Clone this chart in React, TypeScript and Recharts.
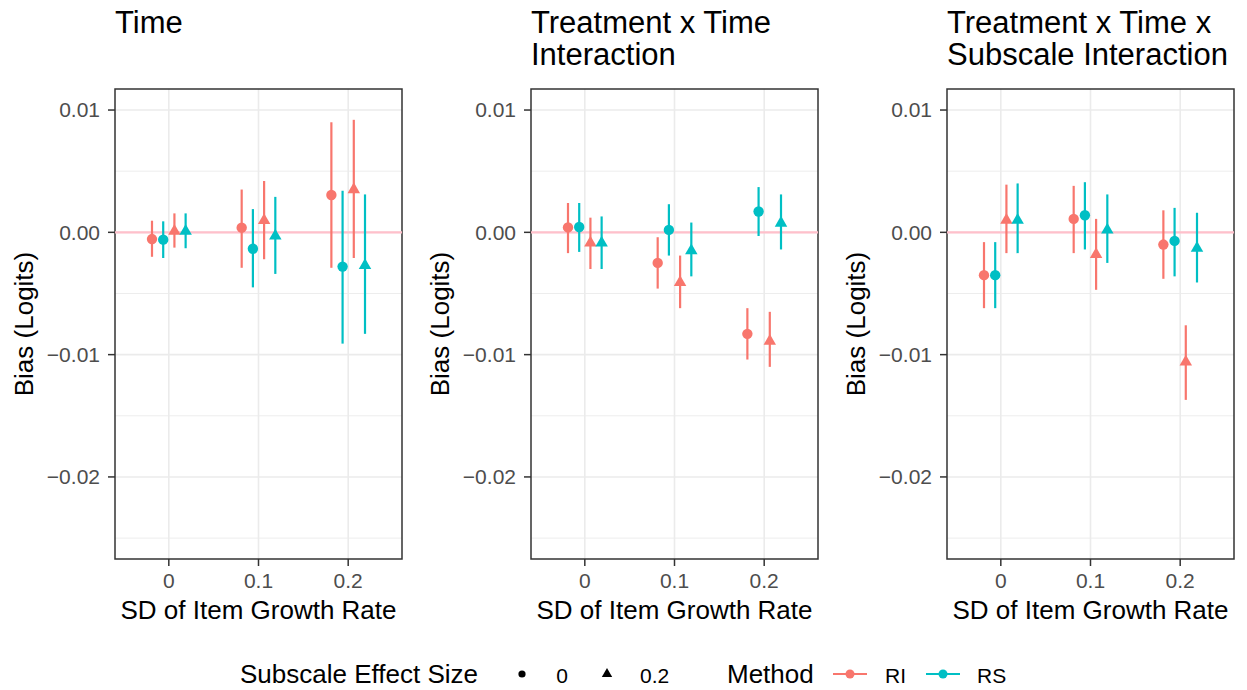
import {
  CartesianGrid,
  ErrorBar,
  ReferenceArea,
  ReferenceLine,
  Scatter,
  ScatterChart,
  XAxis,
  YAxis,
} from 'recharts'

const RI_COLOR = '#F8766D'
const RS_COLOR = '#00BFC4'
const GRID = '#EBEBEB'
const BORDER = '#333333'
const TICK = '#4D4D4D'
const FONT = '"Liberation Sans", Arial, Helvetica, sans-serif'

const sdLevels = ['0', '0.1', '0.2']
const yTicks = [-0.02, -0.01, 0, 0.01]
const yMinor = [-0.025, -0.015, -0.005, 0.005]
const Y_MIN = -0.02671
const Y_MAX = 0.01172

// [estimate, lower, upper] per SD level (0, 0.1, 0.2)
const timeRI0 = [[-0.00055, -0.002, 0.00095], [0.00038, -0.0029, 0.0035], [0.00305, -0.0029, 0.009]]
const timeRS0 = [[-0.0006, -0.0021, 0.0009], [-0.00134, -0.0045, 0.0019], [-0.0028, -0.0091, 0.0034]]
const timeRI2 = [[0.0001, -0.00125, 0.00155], [0.00098, -0.0022, 0.0042], [0.0035, -0.0021, 0.0092]]
const timeRS2 = [[0.0001, -0.0013, 0.00155], [-0.0003, -0.0034, 0.0029], [-0.0027, -0.0083, 0.0031]]

const txtRI0 = [[0.0004, -0.0017, 0.0024], [-0.0025, -0.0046, -0.0004], [-0.0083, -0.0104, -0.0062]]
const txtRS0 = [[0.00044, -0.0016, 0.0024], [0.0002, -0.0019, 0.0023], [0.0017, -0.0003, 0.0037]]
const txtRI2 = [[-0.00087, -0.003, 0.0012], [-0.0041, -0.0062, -0.0019], [-0.0089, -0.011, -0.0065]]
const txtRS2 = [[-0.00087, -0.003, 0.0013], [-0.0015, -0.0036, 0.0008], [0.00076, -0.0014, 0.0031]]

const txtxsRI0 = [[-0.0035, -0.0062, -0.0008], [0.0011, -0.0017, 0.0038], [-0.001, -0.0038, 0.0018]]
const txtxsRS0 = [[-0.0035, -0.0062, -0.0008], [0.0014, -0.0014, 0.0041], [-0.0007, -0.0036, 0.002]]
const txtxsRI2 = [[0.001, -0.0017, 0.0039], [-0.0018, -0.0047, 0.0011], [-0.0106, -0.0137, -0.0076]]
const txtxsRS2 = [[0.001, -0.0017, 0.004], [0.0002, -0.0025, 0.0031], [-0.0013, -0.0041, 0.0016]]

type Shape = 'circle' | 'triangle'

// dodge order inside each SD level: RI/0, RS/0, RI/0.2, RS/0.2
const SERIES: { name: string; color: string; shape: Shape; offset: number }[] = [
  { name: 'RI-0', color: RI_COLOR, shape: 'circle', offset: -0.1875 },
  { name: 'RS-0', color: RS_COLOR, shape: 'circle', offset: -0.0625 },
  { name: 'RI-0.2', color: RI_COLOR, shape: 'triangle', offset: 0.0625 },
  { name: 'RS-0.2', color: RS_COLOR, shape: 'triangle', offset: 0.1875 },
]

const PANELS = [
  { title: ['Time'], left: 0, series: [timeRI0, timeRS0, timeRI2, timeRS2] },
  { title: ['Treatment x Time', 'Interaction'], left: 416, series: [txtRI0, txtRS0, txtRI2, txtRS2] },
  {
    title: ['Treatment x Time x', 'Subscale Interaction'],
    left: 832,
    series: [txtxsRI0, txtxsRS0, txtxsRI2, txtxsRS2],
  },
]

const AXIS_W = 115
const CHART_W = 405
const CHART_H = 630
const tickStyle = { fill: TICK, fontSize: 21, style: { fontSize: 21 } }

function fmtY(v: number): string {
  return v.toFixed(2).replace('-', '\u2212')
}

function makeShape(shape: Shape, color: string) {
  return (props: any) => {
    const { cx, cy } = props
    if (cx == null || cy == null) return <g />
    if (shape === 'circle') return <circle cx={cx} cy={cy} r={5.2} fill={color} />
    const r = 7.2
    const pts = `${cx},${cy - r} ${cx + r * 0.866},${cy + r / 2} ${cx - r * 0.866},${cy + r / 2}`
    return <polygon points={pts} fill={color} />
  }
}

function YLabel(props: any) {
  const vb = props.viewBox ?? { x: 0, y: 89, width: AXIS_W, height: 470 }
  const x = vb.x + 33
  const y = vb.y + vb.height / 2
  return (
    <text x={x} y={y} transform={`rotate(-90 ${x} ${y})`} textAnchor="middle" fontSize={26} fill="#000">
      Bias (Logits)
    </text>
  )
}

function Panel({ series, left }: { series: number[][][]; left: number }) {
  return (
    <div style={{ position: 'absolute', left, top: 0 }}>
      <ScatterChart width={CHART_W} height={CHART_H} margin={{ top: 89, right: 3, bottom: 11, left: 0 }}>
        <CartesianGrid horizontalValues={yMinor} vertical={false} stroke={GRID} strokeWidth={0.9} />
        <CartesianGrid horizontalValues={yTicks} verticalValues={[1, 2, 3]} stroke={GRID} strokeWidth={1.6} />
        <XAxis
          type="number"
          dataKey="x"
          domain={[0.4, 3.6]}
          ticks={[1, 2, 3]}
          interval={0}
          allowDataOverflow
          tickFormatter={(v) => sdLevels[v - 1]}
          fontSize={21}
          tick={tickStyle}
          tickLine={{ stroke: BORDER, strokeWidth: 1.5 }}
          tickSize={7}
          tickMargin={7}
          axisLine={false}
          height={60}
          label={{ value: 'SD of Item Growth Rate', position: 'insideBottom', offset: 0, fontSize: 26, fill: '#000' }}
        />
        <YAxis
          type="number"
          dataKey="y"
          domain={[Y_MIN, Y_MAX]}
          ticks={yTicks}
          interval={0}
          allowDataOverflow
          tickFormatter={fmtY}
          fontSize={21}
          tick={tickStyle}
          tickLine={{ stroke: BORDER, strokeWidth: 1.5 }}
          tickSize={7}
          tickMargin={8}
          axisLine={false}
          width={AXIS_W}
          label={{ content: <YLabel /> }}
        />
        <ReferenceLine y={0} stroke="#FFC0CB" strokeWidth={2.2} />
        {SERIES.map((s, k) => {
          const rows = series[k].map(([est, lo, hi], i) => ({
            x: i + 1 + s.offset,
            y: est,
            err: [est - lo, hi - est],
          }))
          return (
            <Scatter
              key={s.name}
              name={s.name}
              data={rows}
              fill={s.color}
              shape={makeShape(s.shape, s.color)}
              isAnimationActive={false}
            >
              <ErrorBar
                dataKey="err"
                direction="y"
                width={0}
                stroke={s.color}
                strokeWidth={2.2}
                style={{ strokeWidth: 2.2 }}
              />
            </Scatter>
          )
        })}
        <ReferenceArea
          x1={0.4}
          x2={3.6}
          y1={Y_MIN}
          y2={Y_MAX}
          fill="none"
          stroke={BORDER}
          strokeWidth={1.5}
          ifOverflow="visible"
        />
      </ScatterChart>
    </div>
  )
}

export default function App() {
  return (
    <div
      style={{
        position: 'absolute',
        left: 0,
        top: 0,
        width: 1247,
        height: 690,
        background: '#fff',
        fontFamily: FONT,
      }}
    >
      {PANELS.map((p) => (
        <Panel key={p.title.join(' ')} series={p.series} left={p.left} />
      ))}
      <svg
        width={1247}
        height={690}
        style={{ position: 'absolute', left: 0, top: 0, pointerEvents: 'none' }}
        fontFamily={FONT}
      >
        {PANELS.map((p) =>
          p.title.map((line, j) => (
            <text key={line} x={p.left + AXIS_W} y={33 + j * 32} fontSize={31} fill="#000">
              {line}
            </text>
          )),
        )}
        {/* legend */}
        <text x={240} y={683} fontSize={26} fill="#000">Subscale Effect Size</text>
        <circle cx={522} cy={674} r={3.6} fill="#000" />
        <text x={562} y={683} fontSize={21} textAnchor="middle" fill="#000">0</text>
        <polygon points="607,668 612.2,677 601.8,677" fill="#000" />
        <text x={640} y={683} fontSize={21} fill="#000">0.2</text>
        <text x={727} y={683} fontSize={26} fill="#000">Method</text>
        <line x1={833} x2={867} y1={674} y2={674} stroke={RI_COLOR} strokeWidth={2} />
        <circle cx={850} cy={674} r={4.5} fill={RI_COLOR} />
        <text x={885} y={683} fontSize={21} fill="#000">RI</text>
        <line x1={926} x2={960} y1={674} y2={674} stroke={RS_COLOR} strokeWidth={2} />
        <circle cx={943} cy={674} r={4.5} fill={RS_COLOR} />
        <text x={977} y={683} fontSize={21} fill="#000">RS</text>
      </svg>
    </div>
  )
}
